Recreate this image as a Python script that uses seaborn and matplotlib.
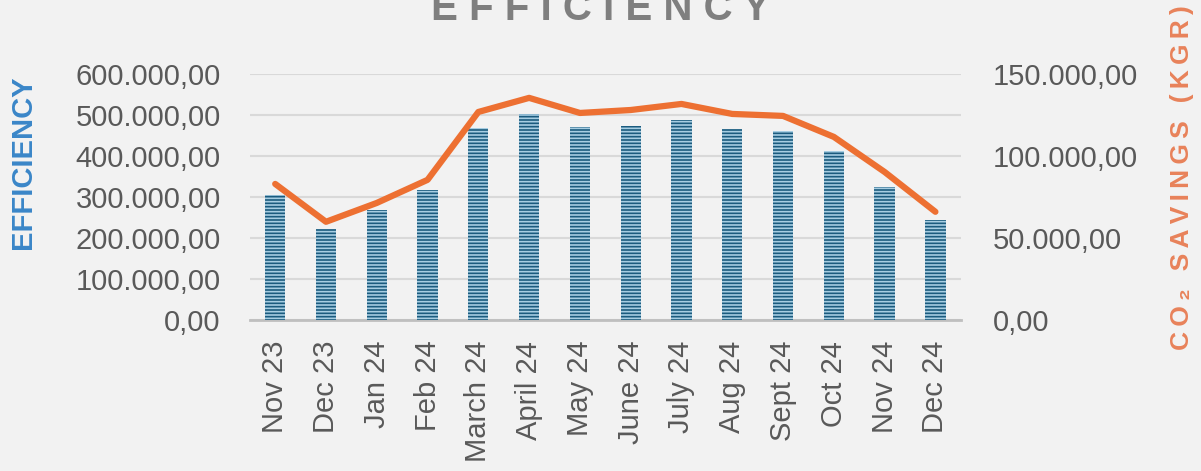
import numpy as np
import pandas as pd
import matplotlib
matplotlib.use("Agg")
import matplotlib.pyplot as plt
import seaborn as sns
from matplotlib.ticker import FuncFormatter, MultipleLocator

months = ["Nov 23", "Dec 23", "Jan 24", "Feb 24", "March 24", "April 24", "May 24",
          "June 24", "July 24", "Aug 24", "Sept 24", "Oct 24", "Nov 24", "Dec 24"]
efficiency = [305000, 222000, 268000, 317000, 468000, 502000, 471000,
              473000, 488000, 466000, 461000, 412000, 324000, 244000]
co2_savings = [82900, 59800, 71300, 85400, 126800, 135400, 126200,
               128000, 131700, 125600, 124400, 111600, 90200, 65900]

df = pd.DataFrame({"month": months, "efficiency": efficiency, "co2": co2_savings})
df["pos"] = np.arange(len(df))

bg = "#f2f2f2"
sns.set_theme(style="white")
plt.rcParams["font.family"] = ["Liberation Sans", "DejaVu Sans"]
plt.rcParams["hatch.linewidth"] = 1.2

fig = plt.figure(figsize=(12.01, 4.71), dpi=100, facecolor=bg)
ax = fig.add_axes([0.208, 0.321, 0.592, 0.522])
ax.set_facecolor(bg)

sns.barplot(data=df, x="month", y="efficiency", color="#1b5b7e", width=0.4,
            saturation=1, ax=ax, zorder=3)
for p in ax.patches:
    p.set_hatch("-----")
    p.set_edgecolor("#a6cde2")
    p.set_linewidth(0)

def fmt(v, _):
    s = f"{v:,.2f}"
    return s.replace(",", "X").replace(".", ",").replace("X", ".")

ax.set_ylim(0, 600000)
ax.yaxis.set_major_locator(MultipleLocator(100000))
ax.yaxis.set_major_formatter(FuncFormatter(fmt))
ax.grid(axis="y", color="#d9d9d9", linewidth=1.5, zorder=0)
ax.set_axisbelow(True)
ax.set_xlim(-0.5, len(months) - 0.5)
ax.tick_params(axis="y", labelsize=21, labelcolor="#595959", length=0, pad=21)
ax.tick_params(axis="x", which="major", labelsize=21, labelcolor="#595959",
               length=0, rotation=90, pad=15)
ax.set_xticks(np.arange(-0.5, len(months)), minor=True)
ax.tick_params(axis="x", which="minor", length=8, width=2, color="#bfbfbf")
for s in ["top", "left", "right"]:
    ax.spines[s].set_visible(False)
ax.spines["bottom"].set_color("#bfbfbf")
ax.spines["bottom"].set_linewidth(2)
ax.set_xlabel("")
ax.set_ylabel("EFFICIENCY", fontsize=21, fontweight="bold", color="#3a86c8",
              va="center")
ax.yaxis.set_label_coords(-0.319, 0.642)

ax2 = ax.twinx()
sns.lineplot(data=df, x="pos", y="co2", color="#ed7032", linewidth=4.5,
             solid_capstyle="round", ax=ax2, zorder=4)
ax2.set_ylim(0, 150000)
ax2.yaxis.set_major_locator(MultipleLocator(50000))
ax2.yaxis.set_major_formatter(FuncFormatter(fmt))
ax2.tick_params(axis="y", labelsize=21, labelcolor="#595959", length=0, pad=23)
for s in ax2.spines.values():
    s.set_visible(False)
ax2.set_xlabel("")
right_label = "\u2009".join("CO\u2082 SAVINGS (KGR)")
ax2.set_ylabel(right_label, fontsize=19, fontweight="bold",
               color="#e8825a", rotation=90, va="center")
ax2.yaxis.set_label_coords(1.311, 0.577)

fig.text(0.5, 1 - 20 / 471, "E F F I C I E N C Y", ha="center", va="baseline",
         fontsize=29, fontweight="bold", color="#7f7f7f")

fig.savefig("out.png", dpi=100, facecolor=bg)
